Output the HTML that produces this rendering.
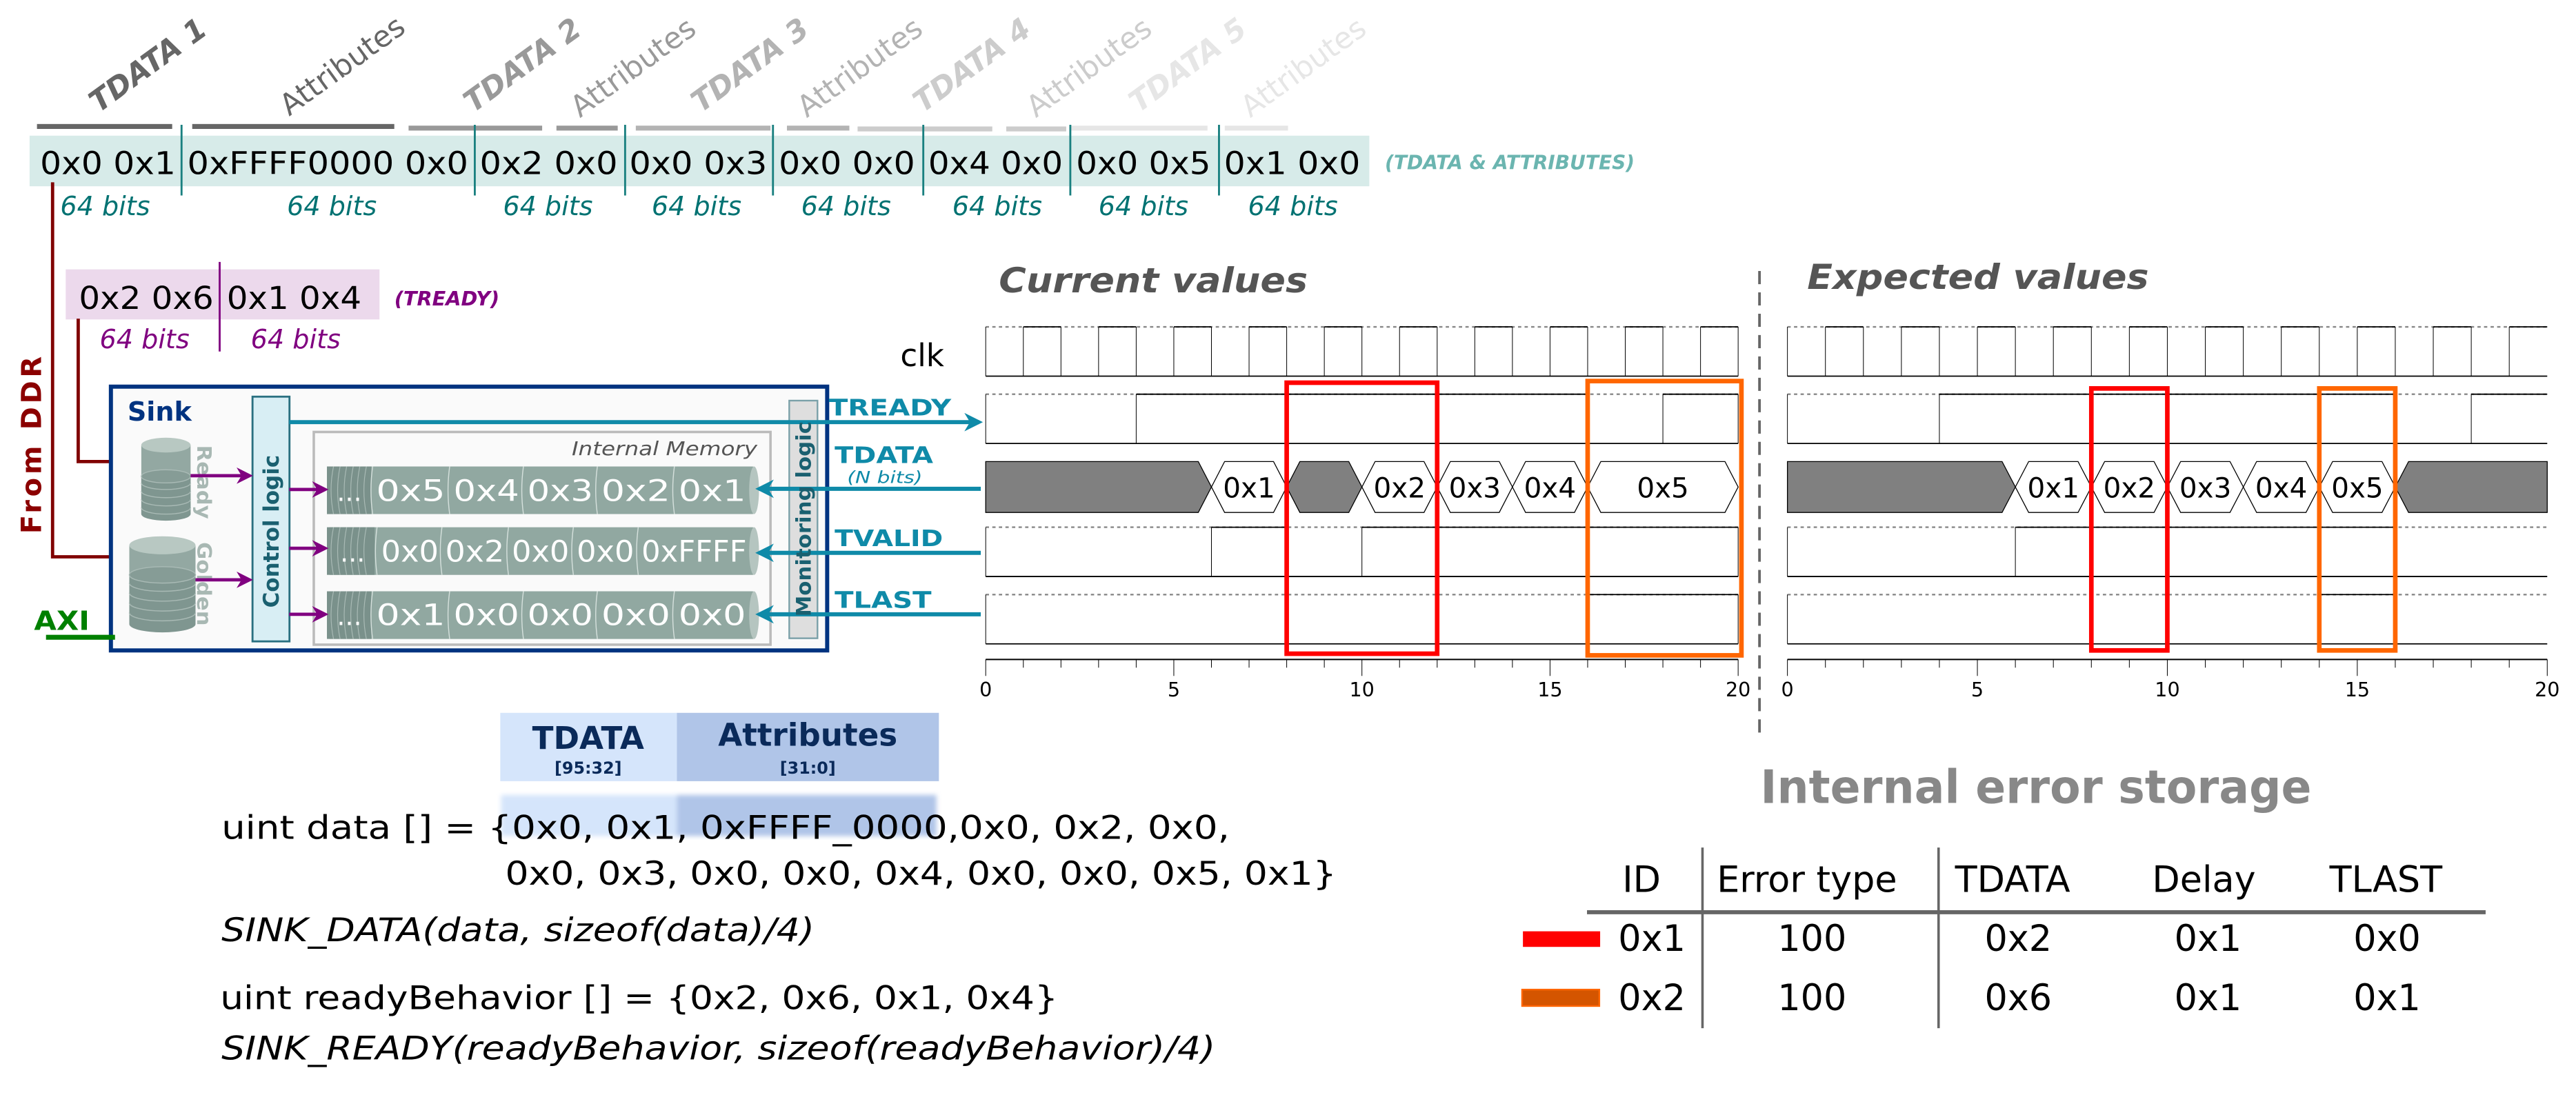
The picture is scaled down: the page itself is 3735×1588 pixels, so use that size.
<!DOCTYPE html>
<html><head><meta charset="utf-8"><style>
html,body{margin:0;padding:0;background:#fff}
svg{display:block}
text{font-family:"DejaVu Sans","Liberation Sans",sans-serif}
.vs{vector-effect:non-scaling-stroke}
</style></head><body>
<svg width="3735" height="1588" viewBox="0 0 1568 666.67" xmlns="http://www.w3.org/2000/svg">
<defs>
<marker id="ard" viewBox="0 0 10 10" refX="8" refY="5" markerWidth="5.5" markerHeight="5.5" orient="auto"><path d="M0 0L10 5L0 10L3 5Z" fill="#800000"/></marker>
<marker id="arp" viewBox="0 0 10 10" refX="8" refY="5" markerWidth="5" markerHeight="5" orient="auto"><path d="M0 0L10 5L0 10L3 5Z" fill="#800080"/></marker>
<marker id="art" viewBox="0 0 10 10" refX="8" refY="5" markerWidth="4.5" markerHeight="4.5" orient="auto"><path d="M0 0L10 5L0 10L3 5Z" fill="#0f8aa8"/></marker>
<filter id="bl"><feGaussianBlur stdDeviation="1.5"/></filter>
</defs>

<!-- slanted labels -->
<g font-weight="bold" font-style="italic" font-size="18">
<text transform="translate(60 69) rotate(-36)" fill="#666">TDATA 1</text>
<text transform="translate(288 69) rotate(-36)" fill="#999">TDATA 2</text>
<text transform="translate(426.5 69) rotate(-36)" fill="#b3b3b3">TDATA 3</text>
<text transform="translate(561.6 69) rotate(-36)" fill="#ccc">TDATA 4</text>
<text transform="translate(693 69) rotate(-36)" fill="#e6e6e6">TDATA 5</text>
</g>
<g font-size="18">
<text transform="translate(176 71) rotate(-36)" fill="#666">Attributes</text>
<text transform="translate(353 72) rotate(-36)" fill="#999">Attributes</text>
<text transform="translate(491 72) rotate(-36)" fill="#b3b3b3">Attributes</text>
<text transform="translate(630.5 72) rotate(-36)" fill="#ccc">Attributes</text>
<text transform="translate(761 72) rotate(-36)" fill="#e6e6e6">Attributes</text>
</g>
<!-- bars -->
<g>
<rect x="22.5" y="75.5" width="82.3" height="3" fill="#666"/>
<rect x="117" y="75.5" width="123" height="3" fill="#666"/>
<rect x="248.7" y="76.5" width="81.3" height="3" fill="#999"/>
<rect x="338.7" y="76.5" width="37.3" height="3" fill="#999"/>
<rect x="387" y="76.5" width="82" height="3" fill="#b3b3b3"/>
<rect x="479" y="76.5" width="38" height="3" fill="#b3b3b3"/>
<rect x="522" y="77" width="82" height="3" fill="#ccc"/>
<rect x="612.5" y="77" width="36.5" height="3" fill="#ccc"/>
<rect x="652" y="76.5" width="83" height="3" fill="#e6e6e6"/>
<rect x="745.5" y="76.5" width="38.5" height="3" fill="#e6e6e6"/>
</g>
<rect x="18" y="82.6" width="815.5" height="30.8" fill="#d7ebe9"/>
<g stroke="#1a8080" stroke-width="1.2">
<line x1="110.5" y1="76" x2="110.5" y2="119"/><line x1="289" y1="76" x2="289" y2="119"/><line x1="380.5" y1="76" x2="380.5" y2="119"/><line x1="470.5" y1="76" x2="470.5" y2="119"/><line x1="562" y1="76" x2="562" y2="119"/><line x1="651.5" y1="76" x2="651.5" y2="119"/><line x1="742" y1="76" x2="742" y2="119"/>
</g>
<g font-size="19" fill="#000">
<text x="24.4" y="106" textLength="82.6" lengthAdjust="spacingAndGlyphs">0x0 0x1</text>
<text x="114" y="106" textLength="171" lengthAdjust="spacingAndGlyphs">0xFFFF0000 0x0</text>
<text x="292" y="106" textLength="84" lengthAdjust="spacingAndGlyphs">0x2 0x0</text>
<text x="383" y="106" textLength="84" lengthAdjust="spacingAndGlyphs">0x0 0x3</text>
<text x="474" y="106" textLength="83" lengthAdjust="spacingAndGlyphs">0x0 0x0</text>
<text x="565" y="106" textLength="82" lengthAdjust="spacingAndGlyphs">0x4 0x0</text>
<text x="655" y="106" textLength="82" lengthAdjust="spacingAndGlyphs">0x0 0x5</text>
<text x="745" y="106" textLength="83" lengthAdjust="spacingAndGlyphs">0x1 0x0</text>
</g>
<text x="843" y="103" font-size="12" font-weight="bold" font-style="italic" fill="#6bb5b0" textLength="152" lengthAdjust="spacingAndGlyphs">(TDATA &amp; ATTRIBUTES)</text>
<g font-size="16" font-style="italic" fill="#007272" text-anchor="middle">
<text x="64" y="131">64 bits</text><text x="202" y="131">64 bits</text><text x="333.5" y="131">64 bits</text><text x="424" y="131">64 bits</text><text x="515" y="131">64 bits</text><text x="607" y="131">64 bits</text><text x="696" y="131">64 bits</text><text x="787" y="131">64 bits</text>
</g>

<rect x="40" y="164" width="191" height="30.5" fill="#ecd9ec"/>
<line x1="133.7" y1="159.5" x2="133.7" y2="214" stroke="#800080" stroke-width="1.2"/>
<g font-size="19"><text x="48" y="188" textLength="82" lengthAdjust="spacingAndGlyphs">0x2 0x6</text><text x="138" y="188" textLength="82" lengthAdjust="spacingAndGlyphs">0x1 0x4</text></g>
<text x="240" y="186" font-size="12" font-weight="bold" font-style="italic" fill="#800080" textLength="64" lengthAdjust="spacingAndGlyphs">(TREADY)</text>
<g font-size="16" font-style="italic" fill="#800080" text-anchor="middle"><text x="88" y="212">64 bits</text><text x="180" y="212">64 bits</text></g>

<path d="M32 111V339H79" fill="none" stroke="#800000" stroke-width="2" marker-end="url(#ard)"/>
<path d="M47.6 194V281H87" fill="none" stroke="#800000" stroke-width="2" marker-end="url(#ard)"/>
<text transform="translate(25 270) rotate(-90)" text-anchor="middle" font-size="17" font-weight="bold" fill="#8b0000" letter-spacing="2" textLength="110" lengthAdjust="spacingAndGlyphs">From DDR</text>

<rect x="67.5" y="235.4" width="436" height="160.6" fill="#fafafa" stroke="#003380" stroke-width="2.5"/>
<text x="77.6" y="256" font-size="16" font-weight="bold" fill="#003380">Sink</text>
<g>
<rect x="86" y="271" width="30" height="42" fill="#93a8a2"/>
<ellipse cx="101" cy="313" rx="15" ry="4" fill="#7f9690"/>
<rect x="86" y="290" width="30" height="23" fill="#7f9690"/>
<g fill="none" stroke="#a9bab5" stroke-width="0.6"><path d="M86 294a15 4 0 0 0 30 0M86 299a15 4 0 0 0 30 0M86 304a15 4 0 0 0 30 0M86 309a15 4 0 0 0 30 0"/></g>
<ellipse cx="101" cy="290" rx="15" ry="4" fill="#869c96" stroke="#a9bab5" stroke-width="0.6"/>
<ellipse cx="101" cy="271" rx="15" ry="4.5" fill="#b8c8c2"/>
<rect x="78.7" y="332" width="40.3" height="48" fill="#93a8a2"/>
<ellipse cx="98.85" cy="380" rx="20.15" ry="5" fill="#7f9690"/>
<rect x="78.7" y="350" width="40.3" height="30" fill="#7f9690"/>
<g fill="none" stroke="#a9bab5" stroke-width="0.6"><path d="M78.7 355a20.15 5 0 0 0 40.3 0M78.7 361a20.15 5 0 0 0 40.3 0M78.7 367a20.15 5 0 0 0 40.3 0M78.7 373a20.15 5 0 0 0 40.3 0"/></g>
<ellipse cx="98.85" cy="350" rx="20.15" ry="5" fill="#869c96" stroke="#a9bab5" stroke-width="0.6"/>
<ellipse cx="98.85" cy="332" rx="20.15" ry="5.5" fill="#b8c8c2"/>
</g>
<g font-size="12" font-weight="bold" fill="#a8b8b3" text-anchor="middle">
<text transform="translate(120 293.5) rotate(90)" textLength="45" lengthAdjust="spacingAndGlyphs">Ready</text>
<text transform="translate(120 355.5) rotate(90)" textLength="51" lengthAdjust="spacingAndGlyphs">Golden</text>
</g>
<rect x="153.7" y="241.5" width="22.5" height="149" fill="#d8eef4" stroke="#2a7080" stroke-width="1.2"/>
<text transform="translate(169.5 323.5) rotate(-90)" text-anchor="middle" font-size="13" font-weight="bold" fill="#1a6070" textLength="93" lengthAdjust="spacingAndGlyphs">Control logic</text>
<rect x="191" y="263" width="278" height="129.5" fill="#fafafa" stroke="#bbb" stroke-width="1.5"/>
<text x="461" y="277" text-anchor="end" font-size="11.5" font-style="italic" fill="#555" textLength="113" lengthAdjust="spacingAndGlyphs">Internal  Memory</text>
<g>
<g>
<rect x="199" y="284" width="261" height="29" rx="2" fill="#91a8a1"/>
<rect x="199" y="284" width="27" height="29" fill="#7a918b"/>
<g stroke="#a9bab5" stroke-width="0.5" fill="none"><path d="M203 284q-3 14.5 0 29M207 284q-3 14.5 0 29M211 284q-3 14.5 0 29M215 284q-3 14.5 0 29M219 284q-3 14.5 0 29M223 284q-3 14.5 0 29"/></g>
<ellipse cx="459" cy="298.5" rx="3" ry="14.5" fill="#b5c5c0"/>
<g stroke="#d5e0dc" stroke-width="0.6" fill="none"><path d="M226.8 284q-2 14.5 0 29M273.7 284q-2 14.5 0 29M318.6 284q-2 14.5 0 29M363.6 284q-2 14.5 0 29M410.5 284q-2 14.5 0 29"/></g>
</g>
<g>
<rect x="199" y="321" width="261" height="29" rx="2" fill="#91a8a1"/>
<rect x="199" y="321" width="29" height="29" fill="#7a918b"/>
<g stroke="#a9bab5" stroke-width="0.5" fill="none"><path d="M203 321q-3 14.5 0 29M207 321q-3 14.5 0 29M211 321q-3 14.5 0 29M215 321q-3 14.5 0 29M219 321q-3 14.5 0 29M223 321q-3 14.5 0 29"/></g>
<ellipse cx="459" cy="335.5" rx="3" ry="14.5" fill="#b5c5c0"/>
<g stroke="#d5e0dc" stroke-width="0.6" fill="none"><path d="M229.5 321q-2 14.5 0 29M269 321q-2 14.5 0 29M309.5 321q-2 14.5 0 29M349 321q-2 14.5 0 29M388.5 321q-2 14.5 0 29"/></g>
</g>
<g>
<rect x="199" y="360" width="261" height="29" rx="2" fill="#91a8a1"/>
<rect x="199" y="360" width="27" height="29" fill="#7a918b"/>
<g stroke="#a9bab5" stroke-width="0.5" fill="none"><path d="M203 360q-3 14.5 0 29M207 360q-3 14.5 0 29M211 360q-3 14.5 0 29M215 360q-3 14.5 0 29M219 360q-3 14.5 0 29M223 360q-3 14.5 0 29"/></g>
<ellipse cx="459" cy="374.5" rx="3" ry="14.5" fill="#b5c5c0"/>
<g stroke="#d5e0dc" stroke-width="0.6" fill="none"><path d="M226.8 360q-2 14.5 0 29M273.7 360q-2 14.5 0 29M318.6 360q-2 14.5 0 29M363.6 360q-2 14.5 0 29M410.5 360q-2 14.5 0 29"/></g>
</g>
<g fill="#fff" font-size="18">
<text x="205" y="305" font-size="16">...</text>
<text x="229" y="305" textLength="42" lengthAdjust="spacingAndGlyphs">0x5</text><text x="276" y="305" textLength="40" lengthAdjust="spacingAndGlyphs">0x4</text><text x="321" y="305" textLength="40" lengthAdjust="spacingAndGlyphs">0x3</text><text x="366" y="305" textLength="42" lengthAdjust="spacingAndGlyphs">0x2</text><text x="413" y="305" textLength="41" lengthAdjust="spacingAndGlyphs">0x1</text>
<text x="207" y="342" font-size="16">...</text>
<text x="232" y="342" textLength="35" lengthAdjust="spacingAndGlyphs">0x0</text><text x="271" y="342" textLength="36" lengthAdjust="spacingAndGlyphs">0x2</text><text x="311.5" y="342" textLength="35" lengthAdjust="spacingAndGlyphs">0x0</text><text x="351" y="342" textLength="35" lengthAdjust="spacingAndGlyphs">0x0</text><text x="390.5" y="342" textLength="64" lengthAdjust="spacingAndGlyphs">0xFFFF</text>
<text x="205" y="380.5" font-size="16">...</text>
<text x="229" y="380.5" textLength="42" lengthAdjust="spacingAndGlyphs">0x1</text><text x="276" y="380.5" textLength="40" lengthAdjust="spacingAndGlyphs">0x0</text><text x="321" y="380.5" textLength="40" lengthAdjust="spacingAndGlyphs">0x0</text><text x="366" y="380.5" textLength="42" lengthAdjust="spacingAndGlyphs">0x0</text><text x="413" y="380.5" textLength="41" lengthAdjust="spacingAndGlyphs">0x0</text>
</g>
</g>
<g stroke="#800080" stroke-width="2" fill="none">
<path d="M116 289.6H152" marker-end="url(#arp)"/>
<path d="M119 353H152" marker-end="url(#arp)"/>
<path d="M176 298H198" marker-end="url(#arp)"/>
<path d="M176 333.8H198" marker-end="url(#arp)"/>
<path d="M176 374H198" marker-end="url(#arp)"/>
</g>
<rect x="480.4" y="243.9" width="17.2" height="144.7" fill="#d8d8d8" fill-opacity="0.85" stroke="#7aa0a8" stroke-width="1"/>
<g stroke="#0f8aa8" stroke-width="2.5" fill="none">
<path d="M176 257H596" marker-end="url(#art)"/>
<path d="M597 297.6H462" marker-end="url(#art)"/>
<path d="M597 336.6H462" marker-end="url(#art)"/>
<path d="M597 374H462" marker-end="url(#art)"/>
</g>
<text transform="translate(493.5 316) rotate(-90)" text-anchor="middle" font-size="12.5" font-weight="bold" fill="#1a6070" textLength="119" lengthAdjust="spacingAndGlyphs">Monitoring logic</text>
<g font-weight="bold" fill="#0f8aa8" font-size="14">
<text x="504.5" y="253" textLength="74.5" lengthAdjust="spacingAndGlyphs">TREADY</text>
<text x="508" y="282" textLength="60" lengthAdjust="spacingAndGlyphs">TDATA</text>
<text x="508" y="332.4" textLength="66" lengthAdjust="spacingAndGlyphs">TVALID</text>
<text x="508" y="370" textLength="59" lengthAdjust="spacingAndGlyphs">TLAST</text>
</g>
<text x="515.7" y="294" font-size="10" font-style="italic" fill="#0f8aa8" textLength="45.8" lengthAdjust="spacingAndGlyphs">(N bits)</text>
<text x="20.7" y="383.5" font-size="16" font-weight="bold" fill="#008000" textLength="33.8" lengthAdjust="spacingAndGlyphs">AXI</text>
<line x1="28" y1="388" x2="70" y2="388" stroke="#008000" stroke-width="3"/>

<text x="608" y="178" font-size="21" font-weight="bold" font-style="italic" fill="#555" textLength="188" lengthAdjust="spacingAndGlyphs">Current values</text>
<text x="1100" y="176" font-size="21" font-weight="bold" font-style="italic" fill="#555" textLength="208" lengthAdjust="spacingAndGlyphs">Expected values</text>
<text x="548" y="223" font-size="19">clk</text>
<line x1="1071" y1="165" x2="1071" y2="448" stroke="#666" stroke-width="1.6" stroke-dasharray="8 5"/>

<g stroke="#888" stroke-width="1" stroke-dasharray="2 2">
<path d="M600 199H1058M600 240H1058M600 321H1058M600 362H1058"/>
<path d="M1088 199H1550.5M1088 240H1550.5M1088 321H1550.5M1088 362H1550.5"/>
</g>

<g transform="translate(600 0) scale(22.9 1)" fill="none" stroke="#000">
<path class="vs" stroke-width="1.8" d="M1 199H2M3 199H4M5 199H6M7 199H8M9 199H10M11 199H12M13 199H14M15 199H16M17 199H18M19 199H20M0 229H20"/>
<path class="vs" stroke-width="1" d="M0 199V229M1 199V229M2 199V229M3 199V229M4 199V229M5 199V229M6 199V229M7 199V229M8 199V229M9 199V229M10 199V229M11 199V229M12 199V229M13 199V229M14 199V229M15 199V229M16 199V229M17 199V229M18 199V229M19 199V229M20 199V229"/>
<path class="vs" stroke-width="1.8" d="M4 240H16M18 240H20M0 270H20"/>
<path class="vs" stroke-width="1" d="M0 240V270M4 240V270M16 240V270M18 240V270M20 240V270"/>
<path class="vs" stroke-width="1.8" d="M6 321H8M10 321H20M0 351H20"/>
<path class="vs" stroke-width="1" d="M0 321V351M6 321V351M8 321V351M10 321V351M20 321V351"/>
<path class="vs" stroke-width="1.8" d="M16 362H20M0 392H20"/>
<path class="vs" stroke-width="1" d="M0 362V392M16 362V392M20 362V392"/>
<g stroke-width="1.3">
<path class="vs" fill="#808080" d="M0 281H5.65L6 296.5L5.65 312H0Z"/>
<path class="vs" fill="#fff" d="M6 296.5L6.35 281H7.65L8 296.5L7.65 312H6.35Z"/>
<path class="vs" fill="#808080" d="M8 296.5L8.35 281H9.65L10 296.5L9.65 312H8.35Z"/>
<path class="vs" fill="#fff" d="M10 296.5L10.35 281H11.65L12 296.5L11.65 312H10.35Z"/>
<path class="vs" fill="#fff" d="M12 296.5L12.35 281H13.65L14 296.5L13.65 312H12.35Z"/>
<path class="vs" fill="#fff" d="M14 296.5L14.35 281H15.65L16 296.5L15.65 312H14.35Z"/>
<path class="vs" fill="#fff" d="M16 296.5L16.35 281H19.65L20 296.5L19.65 312H16.35Z"/>
</g>
<path class="vs" stroke-width="2" d="M0 401.5H20"/>
<path class="vs" stroke-width="1" d="M0 401.5V411.5M5 401.5V411.5M10 401.5V411.5M15 401.5V411.5M20 401.5V411.5M1 401.5V406.5M2 401.5V406.5M3 401.5V406.5M4 401.5V406.5M6 401.5V406.5M7 401.5V406.5M8 401.5V406.5M9 401.5V406.5M11 401.5V406.5M12 401.5V406.5M13 401.5V406.5M14 401.5V406.5M16 401.5V406.5M17 401.5V406.5M18 401.5V406.5M19 401.5V406.5"/>
</g>

<g transform="translate(1088 0) scale(23.125 1)" fill="none" stroke="#000">
<path class="vs" stroke-width="1.8" d="M1 199H2M3 199H4M5 199H6M7 199H8M9 199H10M11 199H12M13 199H14M15 199H16M17 199H18M19 199H20M0 229H20"/>
<path class="vs" stroke-width="1" d="M0 199V229M1 199V229M2 199V229M3 199V229M4 199V229M5 199V229M6 199V229M7 199V229M8 199V229M9 199V229M10 199V229M11 199V229M12 199V229M13 199V229M14 199V229M15 199V229M16 199V229M17 199V229M18 199V229M19 199V229"/>
<path class="vs" stroke-width="1.8" d="M4 240H16M18 240H20M0 270H20"/>
<path class="vs" stroke-width="1" d="M0 240V270M4 240V270M16 240V270M18 240V270"/>
<path class="vs" stroke-width="1.8" d="M6 321H16M0 351H20"/>
<path class="vs" stroke-width="1" d="M0 321V351M6 321V351M16 321V351"/>
<path class="vs" stroke-width="1.8" d="M14 362H16M0 392H20"/>
<path class="vs" stroke-width="1" d="M0 362V392M14 362V392M16 362V392"/>
<g stroke-width="1.3">
<path class="vs" fill="#808080" d="M0 281H5.65L6 296.5L5.65 312H0Z"/>
<path class="vs" fill="#fff" d="M6 296.5L6.35 281H7.65L8 296.5L7.65 312H6.35Z"/>
<path class="vs" fill="#fff" d="M8 296.5L8.35 281H9.65L10 296.5L9.65 312H8.35Z"/>
<path class="vs" fill="#fff" d="M10 296.5L10.35 281H11.65L12 296.5L11.65 312H10.35Z"/>
<path class="vs" fill="#fff" d="M12 296.5L12.35 281H13.65L14 296.5L13.65 312H12.35Z"/>
<path class="vs" fill="#fff" d="M14 296.5L14.35 281H15.65L16 296.5L15.65 312H14.35Z"/>
<path class="vs" fill="#808080" d="M16 296.5L16.35 281H20V312H16.35Z"/>
</g>
<path class="vs" stroke-width="2" d="M0 401.5H20"/>
<path class="vs" stroke-width="1" d="M0 401.5V411.5M5 401.5V411.5M10 401.5V411.5M15 401.5V411.5M20 401.5V411.5M1 401.5V406.5M2 401.5V406.5M3 401.5V406.5M4 401.5V406.5M6 401.5V406.5M7 401.5V406.5M8 401.5V406.5M9 401.5V406.5M11 401.5V406.5M12 401.5V406.5M13 401.5V406.5M14 401.5V406.5M16 401.5V406.5M17 401.5V406.5M18 401.5V406.5M19 401.5V406.5"/>
</g>

<g font-size="17" text-anchor="middle" fill="#000">
<text x="760.3" y="303">0x1</text><text x="851.9" y="303">0x2</text><text x="897.7" y="303">0x3</text><text x="943.5" y="303">0x4</text><text x="1012.2" y="303">0x5</text>
<text x="1249.9" y="303">0x1</text><text x="1296.1" y="303">0x2</text><text x="1342.4" y="303">0x3</text><text x="1388.6" y="303">0x4</text><text x="1434.9" y="303">0x5</text>
</g>
<g font-size="12" text-anchor="middle">
<text x="600" y="424">0</text><text x="714.5" y="424">5</text><text x="829" y="424">10</text><text x="943.5" y="424">15</text><text x="1058" y="424">20</text>
<text x="1088" y="424">0</text><text x="1203.6" y="424">5</text><text x="1319.25" y="424">10</text><text x="1434.9" y="424">15</text><text x="1550.5" y="424">20</text>
</g>

<g fill="none" stroke-width="2.8">
<rect x="783.2" y="233" width="91.6" height="165" stroke="#ff0000"/>
<rect x="966.4" y="232" width="93.6" height="167" stroke="#ff6600"/>
<rect x="1273" y="236.5" width="46.25" height="159.5" stroke="#ff0000"/>
<rect x="1411.75" y="236.5" width="46.25" height="159.5" stroke="#ff6600"/>
</g>

<rect x="304.5" y="434" width="107.5" height="41.6" fill="#d5e5fb"/>
<rect x="412" y="434" width="159.5" height="41.6" fill="#b0c5e8"/>
<text x="358" y="456" text-anchor="middle" font-size="19" font-weight="bold" fill="#0a2a5a">TDATA</text>
<text x="358" y="471" text-anchor="middle" font-size="10" font-weight="bold" fill="#0a2a5a">[95:32]</text>
<text x="491.7" y="454" text-anchor="middle" font-size="19" font-weight="bold" fill="#0a2a5a">Attributes</text>
<text x="491.7" y="471" text-anchor="middle" font-size="10" font-weight="bold" fill="#0a2a5a">[31:0]</text>
<g filter="url(#bl)">
<rect x="305" y="484" width="107" height="25" fill="#d5e5fb"/>
<rect x="412" y="484" width="158" height="25" fill="#b0c5e8"/>
</g>
<g font-size="20" fill="#000" xml:space="preserve">
<text x="134.8" y="510.8" textLength="613.7" lengthAdjust="spacingAndGlyphs">uint data [] = {0x0, 0x1, 0xFFFF_0000,0x0,  0x2, 0x0,</text>
<text x="307.5" y="538.7" textLength="506" lengthAdjust="spacingAndGlyphs">0x0, 0x3, 0x0, 0x0, 0x4, 0x0, 0x0, 0x5, 0x1}</text>
<text x="134.8" y="573" font-style="italic" textLength="361" lengthAdjust="spacingAndGlyphs">SINK_DATA(data, sizeof(data)/4)</text>
<text x="134" y="614.5" textLength="510" lengthAdjust="spacingAndGlyphs">uint readyBehavior [] = {0x2, 0x6, 0x1, 0x4}</text>
<text x="134.8" y="645" font-style="italic" textLength="605" lengthAdjust="spacingAndGlyphs">SINK_READY(readyBehavior, sizeof(readyBehavior)/4)</text>
</g>

<text x="1071.5" y="488.8" font-size="28" font-weight="bold" fill="#888" textLength="335.5" lengthAdjust="spacingAndGlyphs">Internal error storage</text>
<g font-size="22" fill="#000">
<text x="987.5" y="543">ID</text>
<text x="1045" y="543">Error type</text>
<text x="1190" y="543">TDATA</text>
<text x="1310" y="543">Delay</text>
<text x="1418" y="543">TLAST</text>
<text x="985" y="579">0x1</text><text x="1082" y="579">100</text><text x="1208" y="579">0x2</text><text x="1323.5" y="579">0x1</text><text x="1432.5" y="579">0x0</text>
<text x="985" y="615">0x2</text><text x="1082" y="615">100</text><text x="1208" y="615">0x6</text><text x="1323.5" y="615">0x1</text><text x="1432.5" y="615">0x1</text>
</g>
<line x1="966" y1="555.4" x2="1513" y2="555.4" stroke="#666" stroke-width="2.5"/>
<line x1="1036.3" y1="516" x2="1036.3" y2="626" stroke="#666" stroke-width="1.5"/>
<line x1="1180" y1="516" x2="1180" y2="626" stroke="#666" stroke-width="1.5"/>
<rect x="927" y="567" width="47" height="9.5" fill="#ff0000"/>
<rect x="926.5" y="602.5" width="47" height="10" fill="#d45500" stroke="#ff6600" stroke-width="1"/>
</svg>
</body></html>
